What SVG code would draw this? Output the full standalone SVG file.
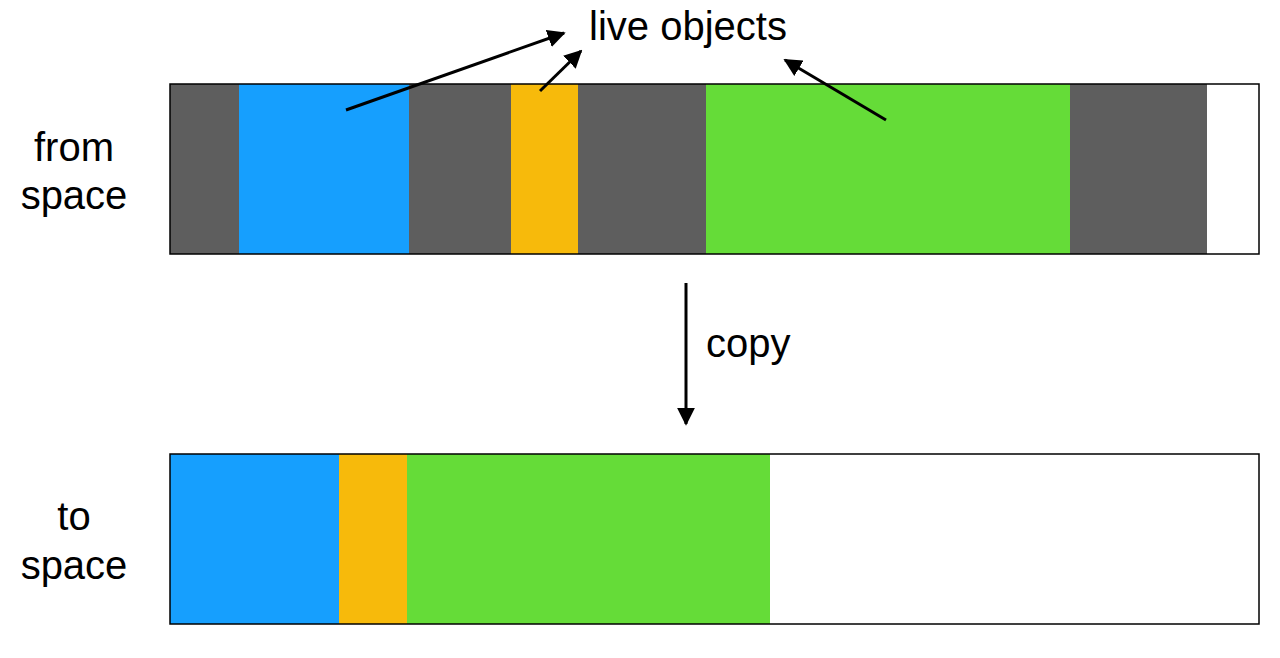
<svg xmlns="http://www.w3.org/2000/svg" width="1280" height="658" viewBox="0 0 1280 658">
<defs>
<style>
text{font-family:"Liberation Sans",Arial,sans-serif;font-size:40px;fill:#000}
.g{fill:#5e5e5e}.b{fill:#169ffe}.y{fill:#f7ba0b}.gr{fill:#65dc38}
.frame{fill:none;stroke:#000;stroke-width:1.5}
.conn{stroke:#000;stroke-width:3;fill:none;marker-end:url(#ah)}
</style>
<marker id="ah" viewBox="0 0 10 10" refX="9" refY="5" markerWidth="6" markerHeight="6" orient="auto" markerUnits="strokeWidth">
<path d="M0,0 L10,5 L0,10 z" fill="#000"/>
</marker>
</defs>
<rect width="1280" height="658" fill="#fff"/>
<g id="from-space">
<rect x="170" y="84" width="1089" height="170" fill="#fff"/>
<rect class="g" x="170" y="84" width="69" height="170"/>
<rect class="b" x="239" y="84" width="170" height="170"/>
<rect class="g" x="409" y="84" width="102" height="170"/>
<rect class="y" x="511" y="84" width="67" height="170"/>
<rect class="g" x="578" y="84" width="128" height="170"/>
<rect class="gr" x="706" y="84" width="364" height="170"/>
<rect class="g" x="1070" y="84" width="137" height="170"/>
<rect class="frame" x="170" y="84" width="1089" height="170"/>
<text x="74" y="161" text-anchor="middle">from</text>
<text x="74" y="209" text-anchor="middle">space</text>
</g>
<g id="to-space">
<rect x="170" y="454" width="1089" height="170" fill="#fff"/>
<rect class="b" x="170" y="454" width="169" height="170"/>
<rect class="y" x="339" y="454" width="68" height="170"/>
<rect class="gr" x="407" y="454" width="363" height="170"/>
<rect class="frame" x="170" y="454" width="1089" height="170"/>
<text x="74" y="530" text-anchor="middle">to</text>
<text x="74" y="579" text-anchor="middle">space</text>
</g>
<g id="live-objects-label">
<text x="688" y="40" text-anchor="middle">live objects</text>
</g>
<g id="copy-label">
<text x="706" y="357">copy</text>
</g>
<g id="connectors">
<line class="conn" x1="346" y1="110" x2="564" y2="33"/>
<line class="conn" x1="540" y1="91" x2="581" y2="51"/>
<line class="conn" x1="886" y1="120" x2="785" y2="60"/>
<line class="conn" x1="686" y1="283" x2="686" y2="424"/>
</g>
</svg>
